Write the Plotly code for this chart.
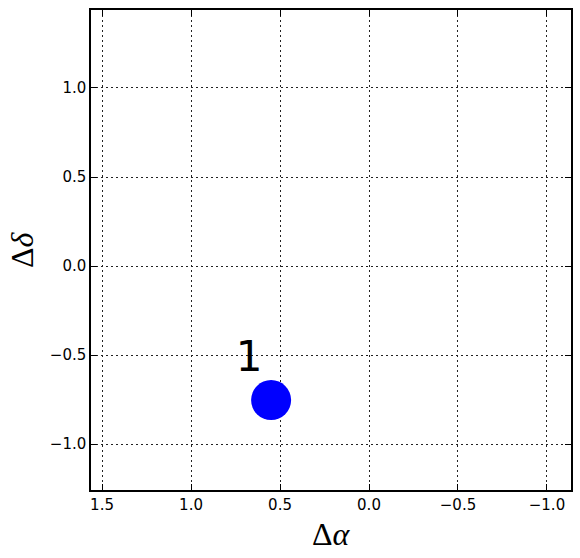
import plotly.graph_objects as go

# data
x_vals = [0.55]
y_vals = [-0.753]
point_labels = ["1"]
label_x = [0.674]
label_y = [-0.528]
x_ticks = [1.5, 1.0, 0.5, 0.0, -0.5, -1.0]
y_ticks = [-1.0, -0.5, 0.0, 0.5, 1.0]

def fmt(v):
    s = f"{v:.1f}"
    return s.replace("-", "\u2212")

fig = go.Figure()
fig.add_trace(go.Scatter(x=x_vals, y=y_vals, mode="markers",
                         marker=dict(color="#0000ff", size=40, line=dict(width=0)),
                         showlegend=False, hoverinfo="skip"))
fig.add_trace(go.Scatter(x=label_x, y=label_y, mode="text", text=point_labels,
                         textfont=dict(family="DejaVu Sans", size=42, color="black"),
                         showlegend=False, hoverinfo="skip"))

axis_common = dict(showline=True, linecolor="black", linewidth=1.5, mirror="allticks",
                   ticks="inside", ticklen=6, tickwidth=1, tickcolor="black",
                   showgrid=True, gridcolor="#222222", griddash="1.5px,3.5px", gridwidth=1,
                   zeroline=False, automargin=False,
                   tickfont=dict(family="DejaVu Sans", size=15, color="black"))

fig.update_layout(
    template="none",
    width=580, height=558,
    margin=dict(l=91, r=9, t=10, b=68),
    plot_bgcolor="white", paper_bgcolor="white",
    xaxis=dict(range=[1.562, -1.135], tickvals=x_ticks, ticktext=[fmt(v) for v in x_ticks],
               **axis_common),
    yaxis=dict(range=[-1.258, 1.438], tickvals=y_ticks, ticktext=[fmt(v) for v in y_ticks],
               **axis_common),
    annotations=[
        dict(text="\u0394<i>\u03b1</i>", xref="paper", yref="paper", x=0.5, y=-44/480,
             xanchor="center", yanchor="middle", showarrow=False,
             font=dict(family="Liberation Serif", size=32, color="black")),
        dict(text="\u0394<i>\u03b4</i>", xref="paper", yref="paper", x=-69/480, y=(490-250)/480,
             xanchor="center", yanchor="middle", showarrow=False, textangle=-90,
             font=dict(family="Liberation Serif", size=32, color="black")),
    ],
)

fig.write_html("out.html", config={"displayModeBar": False},
               post_script="document.body.style.margin='0';")
